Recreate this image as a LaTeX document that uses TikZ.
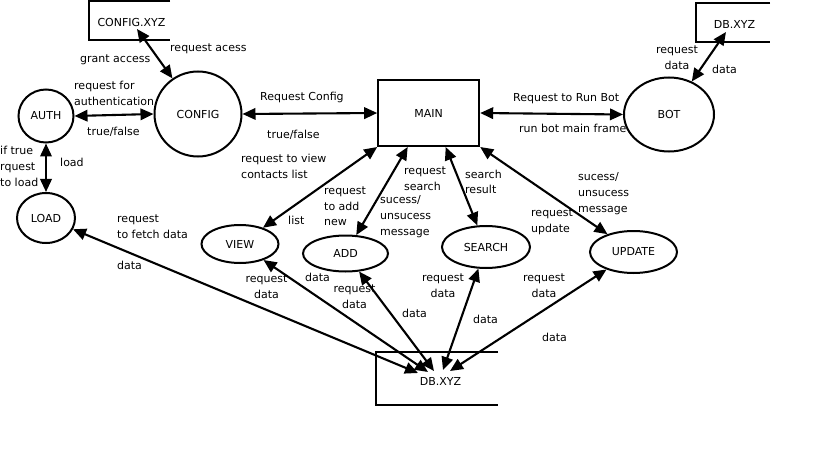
\documentclass[tikz,border=0pt]{standalone}
\usepackage{fontspec}
\setmainfont{DejaVu Sans}
\usetikzlibrary{arrows.meta,shapes.geometric}
\begin{document}
\begin{tikzpicture}[x=1pt,y=-1pt,
  font=\fontsize{11pt}{15.7pt}\selectfont,
  proc/.style={ellipse, draw, line width=2pt, inner sep=0pt},
  box/.style={rectangle, draw, line width=2pt, inner sep=0pt},
  store/.style={line width=2pt},
  flow/.style={line width=2.1pt, {Triangle[length=13pt,width=11.5pt]}-{Triangle[length=13pt,width=11.5pt]}},
  lbl/.style={inner sep=0pt, align=left, anchor=west},
  lblc/.style={inner sep=0pt, align=center}]
\useasboundingbox (0,0) rectangle (817,476);
\fill[white] (0,0) rectangle (817,476);

% processes
\node[proc, minimum width=55pt, minimum height=53pt] (auth) at (46,116) {AUTH};
\node[proc, minimum width=87pt, minimum height=85pt] (config) at (198,114) {CONFIG};
\node[box, minimum width=101pt, minimum height=66pt] (main) at (428.7,113) {MAIN};
\node[proc, minimum width=90pt, minimum height=74pt] (bot) at (669,114.5) {BOT};
\node[proc, minimum width=58pt, minimum height=50pt] (load) at (46,218) {LOAD};
\node[proc, minimum width=77pt, minimum height=38pt] (view) at (240,244) {VIEW};
\node[proc, minimum width=85pt, minimum height=36pt] (add) at (345.5,253.5) {ADD};
\node[proc, minimum width=88pt, minimum height=42pt] (search) at (486,247) {SEARCH};
\node[proc, minimum width=87pt, minimum height=42pt] (update) at (633.5,252) {UPDATE};

% data stores
\draw[store] (170,1) -- (89,1) -- (89,40.5) -- (170,40.5);
\node[inner sep=0pt] (cfgxyz) at (131.5,22.5) {CONFIG.XYZ};
\draw[store] (770,3) -- (696,3) -- (696,42.5) -- (770,42.5);
\node[inner sep=0pt] (dbtop) at (734.5,24) {DB.XYZ};
\draw[store] (498,352) -- (376,352) -- (376,405) -- (498,405);
\node[inner sep=0pt] (dbbot) at (440.5,381) {DB.XYZ};

% connector ends at stores
\coordinate (cfgtip) at (137,29);
\coordinate (dbtoptip) at (726,32);
\coordinate (dbA) at (418,373);
\coordinate (dbB) at (428,372);
\coordinate (dbC) at (434,371);
\coordinate (dbD) at (443,370);
\coordinate (dbE) at (450,371);

% connectors
\draw[flow] (cfgtip) -- (config);
\draw[flow] (auth.east) -- (config.west);
\draw[flow] (config.east) -- (main.west);
\draw[flow] (main.east) -- (bot.west);
\draw[flow] (dbtoptip) -- (bot);
\draw[flow] (auth) -- (load);
\draw[flow] (main.south west) -- (view);
\draw[flow] ([xshift=-21pt]main.south) -- (add);
\draw[flow] ([xshift=17pt]main.south) -- (search);
\draw[flow] (main.south east) -- (update);
\draw[flow] (load) -- (dbA);
\draw[flow] (view) -- (dbB);
\draw[flow] (add) -- (dbC);
\draw[flow] (search) -- (dbD);
\draw[flow] (update) -- (dbE);

% labels
\node[lbl] (l1) at (80,60) {grant access};
\node[lbl] (l2) at (170,49) {request acess};
\node[lbl] (l3) at (74,93.5) {request for\\authentication};
\node[lbl] (l4) at (87,132) {true/false};
\node[lbl] (l5) at (260,97) {Request Config};
\node[lbl] (l6) at (267,135) {true/false};
\node[lbl] (l7) at (0,166.5) {if true\\rquest\\to load};
\node[lbl] (l8) at (60,162) {load};
\node[lbl] (l9) at (117,226.5) {request\\to fetch data};
\node[lbl] (l10) at (117,265) {data};
\node[lbl] (l11) at (241,166.5) {request to view\\contacts list};
\node[lbl] (l12) at (288,220) {list};
\node[lbl] (l13) at (324,206.5) {request\\to add\\new};
\node[lbl] (l14) at (404,179) {request\\search};
\node[lbl] (l15) at (380,216.5) {sucess/\\unsucess\\message};
\node[lbl] (l16) at (465,182) {search\\result};
\node[lbl] (l17) at (578,193.5) {sucess/\\unsucess\\message};
\node[lbl] (l18) at (531,221.5) {request\\update};
\node[lbl] (l19) at (513,99) {Request to Run Bot};
\node[lbl] (l20) at (519,128) {run bot main frame};
\node[lblc] (l21) at (677,57.5) {request\\data};
\node[lbl] (l22) at (712,69) {data};
\node[lblc] (l23) at (266.5,287) {request\\data};
\node[lbl] (l24) at (305,277) {data};
\node[lblc] (l25) at (354.5,297) {request\\data};
\node[lbl] (l26) at (402,313) {data};
\node[lblc] (l27) at (443,285.5) {request\\data};
\node[lbl] (l28) at (473,319) {data};
\node[lblc] (l29) at (544,285.5) {request\\data};
\node[lbl] (l30) at (542,337) {data};
\end{tikzpicture}
\end{document}
